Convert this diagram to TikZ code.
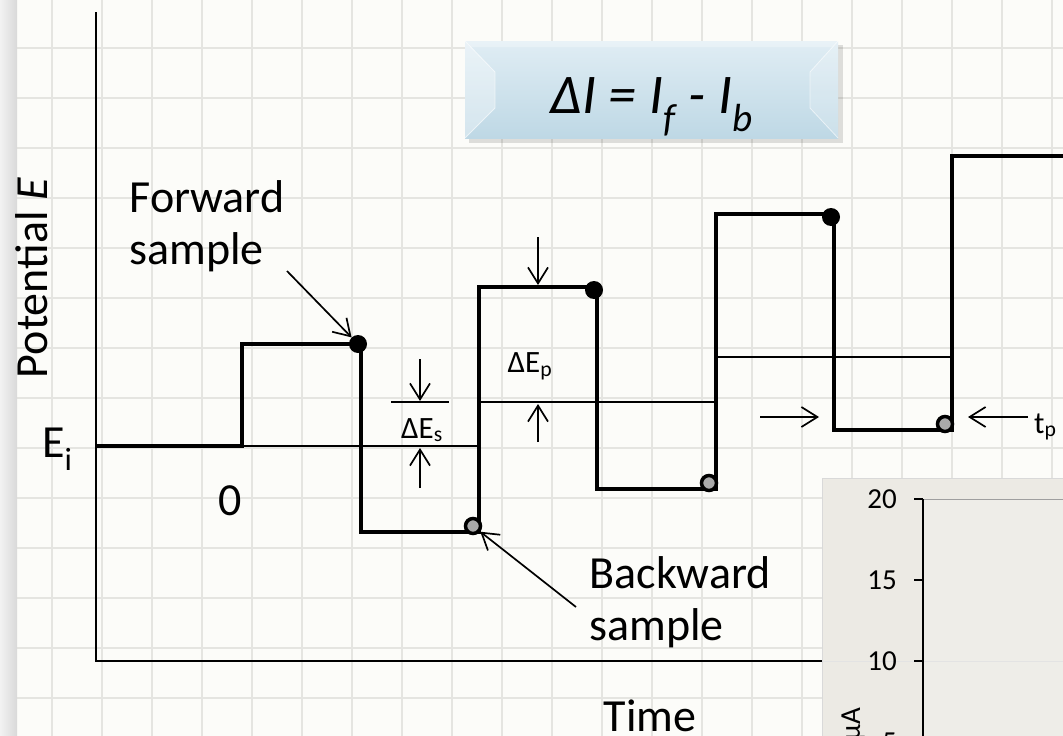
\documentclass[tikz,border=0pt]{standalone}
\usepackage{fontspec}
\setmainfont{Carlito}
\usetikzlibrary{arrows.meta, positioning, calc}
\definecolor{paper}{RGB}{252,252,249}
\definecolor{gridgray}{RGB}{229,229,225}
\definecolor{dotgray}{RGB}{170,170,170}
\definecolor{boxtop}{RGB}{224,237,244}
\definecolor{boxbot}{RGB}{190,216,229}
\definecolor{insetbg}{RGB}{236,234,228}
\definecolor{insetplot}{RGB}{238,237,232}

\begin{document}
\begin{tikzpicture}[x=1pt, y=-1pt,
  wave/.style={line width=3.6pt, line join=miter},
  stair/.style={line width=1.3pt},
  dimarrow/.style={line width=1.7pt, -{Straight Barb[length=16pt,width=20pt]}},
  fwddot/.style={circle, fill=black, inner sep=0pt, minimum size=18pt},
  bwddot/.style={circle, fill=dotgray, draw=black, line width=3.5pt, inner sep=0pt, minimum size=15pt},
  big/.style={font=\fontsize{46}{52}\selectfont},
  small/.style={font=\fontsize{31}{34}\selectfont},
  tick/.style={font=\fontsize{29}{32}\selectfont}]
  \useasboundingbox (0,0) rectangle (1063,736);
  \clip (0,0) rectangle (1063,736);
  % Paper with grid
  \fill[paper] (0,0) rectangle (1063,736);
  \foreach \gx in {2,52,...,1052} \draw[gridgray, line width=1.6pt] (\gx,0) -- (\gx,736);
  \foreach \gy in {48,98,...,698} \draw[gridgray, line width=1.6pt] (0,\gy) -- (1063,\gy);
  \shade[left color=gray!10, right color=gray!30] (0,0) rectangle (17,736);
  % Axes
  \coordinate (origin) at (96,661);
  \coordinate (ytop) at (96,12);
  \coordinate (xend) at (822,661);
  \draw[line width=1.8pt] (ytop) -- (origin) -- (xend);
  \node[big, rotate=90, anchor=base] (potlbl) at (47,278) {Potential \textit{E}};
  \node[big, anchor=base, inner sep=0pt] (timelbl) at (650,731) {Time};
  \node[big, anchor=base west, inner sep=0pt] (Ei) at (42,457) {E\textsubscript{i}};
  \node[big, anchor=base] (zero) at (230,515) {0};
  % Staircase mid levels
  \draw[stair] (242,446) -- (479,446);
  \draw[stair] (479,402) -- (716,402);
  \draw[stair] (716,357) -- (952,357);
  % Pulse waveform
  \draw[wave] (96,446) -- (242,446) -- (242,344) -- (361,344) -- (361,532)
    -- (479,532) -- (479,287) -- (597,287) -- (597,489) -- (716,489)
    -- (716,214) -- (834,214) -- (834,430) -- (952,430) -- (952,156) -- (1063,156);
  % Sample points
  \node[fwddot] (fwdA) at (358,344) {};
  \node[fwddot] (fwdB) at (594,290) {};
  \node[fwddot] (fwdC) at (831,217) {};
  \node[bwddot] (bwdA) at (473,526) {};
  \node[bwddot] (bwdB) at (709,483) {};
  \node[bwddot] (bwdC) at (945,424) {};
  % Sample labels
  \node[big, align=left, anchor=west] (fwdlbl) at (126,226) {Forward\\sample};
  \node[big, align=left, anchor=west] (bwdlbl) at (586,602) {Backward\\sample};
  \coordinate (fwdtail) at (287,271);
  \coordinate (bwdtail) at (576,607);
  \draw[dimarrow] (fwdtail) -- (fwdA);
  \draw[dimarrow] (bwdtail) -- (bwdA);
  % Step height
  \coordinate (dsTopA) at (420,359);
  \coordinate (dsTopB) at (420,401);
  \coordinate (dsBotA) at (420,488);
  \coordinate (dsBotB) at (420,448);
  \draw[stair] (391,402) -- (449,402);
  \draw[dimarrow] (dsTopA) -- (dsTopB);
  \draw[dimarrow] (dsBotA) -- (dsBotB);
  \node[small] (dEs) at (422,430) {ΔE\textsubscript{s}};
  % Pulse height
  \coordinate (dpTopA) at (538,237);
  \coordinate (dpTopB) at (538,285);
  \coordinate (dpBotA) at (538,442);
  \coordinate (dpBotB) at (538,404);
  \draw[dimarrow] (dpTopA) -- (dpTopB);
  \draw[dimarrow] (dpBotA) -- (dpBotB);
  \node[small] (dEp) at (530,366) {ΔE\textsubscript{p}};
  % Pulse width
  \coordinate (tpLeftA) at (760,417);
  \coordinate (tpLeftB) at (819,417);
  \coordinate (tpRightA) at (1028,417);
  \coordinate (tpRightB) at (968,417);
  \draw[dimarrow] (tpLeftA) -- (tpLeftB);
  \draw[dimarrow] (tpRightA) -- (tpRightB);
  \node[small, anchor=base west, inner sep=0pt] (tp) at (1034,433) {t\textsubscript{p}};
  % Formula box
  \fill[black, opacity=0.12] (469,45) rectangle (843,143);
  \shade[top color=boxtop, bottom color=boxbot] (465,41) rectangle (838,138);
  \fill[white, opacity=0.35] (465,41) -- (495,72) -- (495,108) -- (465,138) -- cycle;
  \fill[white, opacity=0.2] (838,41) -- (810,72) -- (810,108) -- (838,138) -- cycle;
  \fill[white, opacity=0.3] (465,41) -- (838,41) -- (832,47) -- (471,47) -- cycle;
  \draw[white, opacity=0.6, line width=0.8pt] (465,41) -- (495,72) -- (495,108) -- (465,138);
  \draw[white, opacity=0.6, line width=0.8pt] (838,41) -- (810,72) -- (810,108) -- (838,138);
  \node[font=\fontsize{56}{60}\selectfont\itshape, anchor=base] (formula) at (652,113)
    {ΔI = I\textsubscript{f} - I\textsubscript{b}};
  % Inset current plot
  \fill[insetbg] (822,478) rectangle (1063,736);
  \draw[gray!30, line width=1pt] (822,736) -- (822,478) -- (1063,478);
  \fill[insetplot] (923,499) rectangle (1063,736);
  \draw[gray!22, line width=1pt] (823,661) -- (1063,661);
  \draw[gray!75, line width=1pt] (923,499) -- (1063,499);
  \draw[line width=1.3pt] (923,499) -- (923,736);
  \foreach \ty/\tl in {499/20, 580/15, 661/10, 742/5} {
    \draw[line width=1.2pt] (914,\ty) -- (923,\ty);
    \node[tick, anchor=east, inner sep=0pt] at (897,\ty) {\tl};
  }
  \node[tick, rotate=90, anchor=base] (unitlbl) at (860,724) {μA};
\end{tikzpicture}
\end{document}
